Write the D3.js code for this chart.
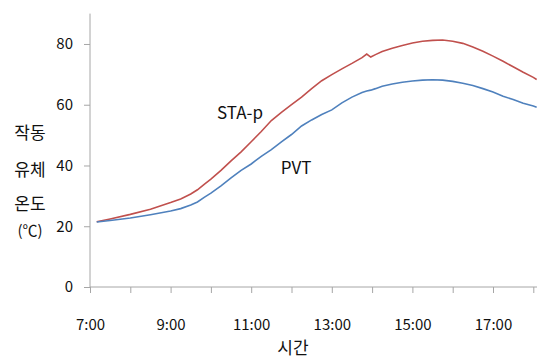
<!DOCTYPE html>
<html>
<head>
<meta charset="utf-8">
<script src="https://cdn.jsdelivr.net/npm/d3@7/dist/d3.min.js"></script>
<style>
  html, body { margin: 0; padding: 0; background: #fff; }
  svg { display: block; }
  text { font-family: "Noto Sans CJK KR", "Noto Sans", sans-serif; fill: #111; }
</style>
</head>
<body>
<svg id="chart" width="537" height="358"></svg>
<script>
// Working-fluid temperature over the day, two collector types
const times = ["7:10","7:30","8:00","8:30","9:00","9:15","9:30","9:40","9:50","10:00",
  "10:15","10:30","10:45","11:00","11:15","11:30","11:45","12:00","12:15","12:30",
  "12:45","13:00","13:15","13:30","13:45","13:52","13:58","14:05","14:15","14:30",
  "14:45","15:00","15:15","15:30","15:45","16:00","16:15","16:30","16:45","17:00",
  "17:15","17:30","17:45","18:00","18:05"];
const staP = [21.5,22.4,23.9,25.6,27.8,29.0,30.6,32.0,33.8,35.5,
  38.4,41.5,44.5,47.8,51.2,54.8,57.5,60.0,62.5,65.3,
  67.9,69.9,71.8,73.6,75.5,76.7,75.7,76.5,77.5,78.6,
  79.5,80.3,80.9,81.2,81.3,80.9,80.2,79.0,77.6,76.0,
  74.3,72.5,70.7,69.0,68.3];
const pvt = [21.4,21.9,22.7,23.8,25.0,25.8,27.0,28.0,29.5,30.9,
  33.3,35.9,38.4,40.5,43.0,45.2,47.8,50.2,53.0,55.0,
  56.8,58.3,60.6,62.5,64.0,64.5,64.8,65.3,66.1,66.8,
  67.4,67.8,68.1,68.2,68.1,67.7,67.1,66.3,65.3,64.2,
  62.8,61.7,60.5,59.6,59.2];
const yTicks = [0, 20, 40, 60, 80];
const xTickHours = [7,8,9,10,11,12,13,14,15,16,17,18];
const xLabelHours = [7, 9, 11, 13, 15, 17];
const seriesNames = ["STA-p", "PVT"];
const colors = ["#c0504d", "#4f81bd"];

const toHours = s => { const [h, m] = s.split(":").map(Number); return h + m / 60; };

const svg = d3.select("#chart");
const x = d3.scaleLinear().domain([7, 18]).range([90, 533.3]);
const y = d3.scaleLinear().domain([0, 90]).range([287, 13.6]);
const axisColor = "#a6a6a6";

// x axis
const gx = svg.append("g").attr("transform", `translate(0,${y(0)})`)
  .call(d3.axisBottom(x).tickValues(xTickHours).tickSize(6)
    .tickFormat(h => xLabelHours.includes(h) ? `${h}:00` : ""));
gx.select(".domain").remove();
gx.append("line").attr("x1", x(7)).attr("x2", 537).attr("stroke", axisColor);
gx.selectAll(".tick line").attr("stroke", axisColor);
gx.selectAll(".tick text").attr("y", 32).attr("font-size", 15)
  .style("font-family", '"Noto Sans CJK KR", sans-serif').attr("fill", "#111");

// y axis
const gy = svg.append("g").attr("transform", `translate(${x(7)},0)`)
  .call(d3.axisLeft(y).tickValues(yTicks).tickSize(6));
gy.select(".domain").remove();
gy.append("line").attr("y1", y(0)).attr("y2", y(90)).attr("stroke", axisColor);
gy.selectAll(".tick line").attr("stroke", axisColor);
gy.selectAll(".tick text").attr("x", -17).attr("font-size", 15)
  .style("font-family", '"Noto Sans CJK KR", sans-serif').attr("fill", "#111");

// lines
const line = d3.line().x(d => x(d[0])).y(d => y(d[1]));
[staP, pvt].forEach((vals, i) => {
  svg.append("path")
    .datum(times.map((t, j) => [toHours(t), vals[j]]))
    .attr("fill", "none").attr("stroke", colors[i]).attr("stroke-width", 1.6)
    .attr("d", line);
});

// series labels
svg.append("text").attr("x", 240).attr("y", 119).attr("text-anchor", "middle")
  .attr("font-size", 17).text(seriesNames[0]);
svg.append("text").attr("x", 296).attr("y", 174).attr("text-anchor", "middle")
  .attr("font-size", 17).text(seriesNames[1]);

// axis titles
svg.append("text").attr("x", 293).attr("y", 354).attr("text-anchor", "middle")
  .attr("font-size", 17).text("시간");
const yTitle = [["작동", 139, 17], ["유체", 176, 17], ["온도", 210, 17], ["(℃)", 236, 15]];
yTitle.forEach(([t, yy, fs]) => {
  svg.append("text").attr("x", 30).attr("y", yy).attr("text-anchor", "middle")
    .attr("font-size", fs).text(t);
});
</script>
</body>
</html>
